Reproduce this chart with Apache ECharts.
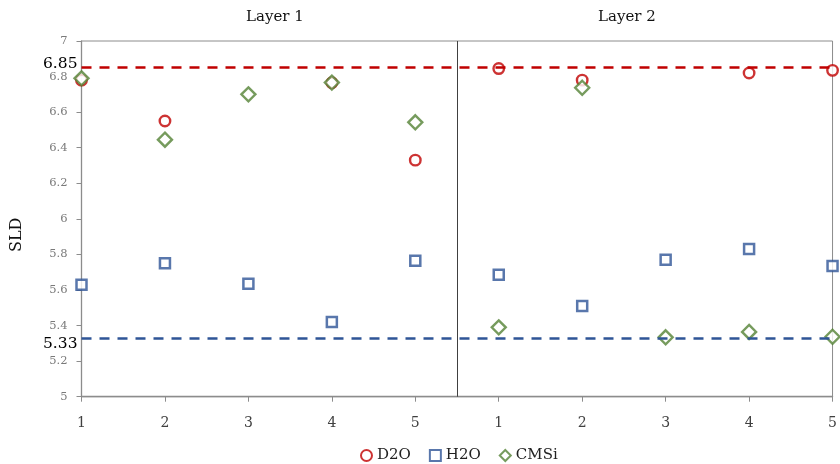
<!DOCTYPE html>
<html>
<head>
<meta charset="utf-8">
<script src="https://cdn.jsdelivr.net/npm/echarts@6/dist/echarts.min.js"></script>
<style>html,body{margin:0;padding:0;background:#fff}#c{width:840px;height:464px}</style>
</head>
<body>
<div id="c"></div>
<script>
const layers = ['Layer 1', 'Layer 2'];
const samples = ['1', '2', '3', '4', '5'];
const yTicks = [5, 5.2, 5.4, 5.6, 5.8, 6, 6.2, 6.4, 6.6, 6.8, 7];
const d2oL1 = [6.78, 6.55, null, 6.765, 6.33];
const d2oL2 = [6.845, 6.78, null, 6.82, 6.835];
const h2oL1 = [5.63, 5.75, 5.635, 5.42, 5.765];
const h2oL2 = [5.685, 5.51, 5.77, 5.83, 5.735];
const cmsiL1 = [6.79, 6.445, 6.70, 6.766, 6.543];
const cmsiL2 = [5.39, 6.737, 5.334, 5.364, 5.337];
const d2oRef = 6.85;
const h2oRef = 5.33;

const FONT = 'DejaVu Serif';
const RED = '#C00000', BLUE = '#2F5597', GREEN = '#548235';

function pts(l1, l2) {
  const out = [];
  [l1, l2].forEach((arr, li) => arr.forEach((v, i) => {
    if (v !== null) out.push([li * samples.length + i + 1, v]);
  }));
  return out;
}
const nX = layers.length * samples.length;

const chart = echarts.init(document.getElementById('c'));
chart.setOption({
  animation: false,
  textStyle: { fontFamily: FONT },
  grid: { left: 81.5, right: 5, top: 41, bottom: 67.3, show: true, borderColor: '#8c8c8c', borderWidth: 1 },
  xAxis: {
    type: 'value', min: 1, max: nX, interval: 1,
    axisLine: { lineStyle: { color: '#8c8c8c', width: 1.3 } },
    axisTick: { show: true, length: 5, lineStyle: { color: '#8c8c8c' } },
    splitLine: { show: false },
    axisLabel: {
      margin: 20, color: '#404040', fontSize: 14, fontFamily: FONT,
      formatter: v => samples[(v - 1) % samples.length]
    }
  },
  yAxis: {
    type: 'value', min: yTicks[0], max: yTicks[yTicks.length - 1], interval: 0.2,
    axisLine: { show: true, lineStyle: { color: '#8c8c8c', width: 1.3 } },
    axisTick: { show: true, length: 5, lineStyle: { color: '#8c8c8c' } },
    splitLine: { show: false },
    axisLabel: { margin: 14, color: '#7a7a7a', fontSize: 11.5, fontFamily: FONT }
  },
  legend: {
    left: 355, top: 443, itemWidth: 11, itemHeight: 11, itemGap: 18,
    textStyle: { fontFamily: FONT, fontSize: 15, color: '#222' },
    data: ['D2O', 'H2O', 'CMSi']
  },
  graphic: [
    { type: 'text', left: 246, top: 10, style: { text: layers[0], font: '15px "DejaVu Serif"', fill: '#111' } },
    { type: 'text', left: 598, top: 10, style: { text: layers[1], font: '15px "DejaVu Serif"', fill: '#111' } },
    { type: 'text', x: 9, y: 252, rotation: Math.PI / 2, style: { text: 'SLD', font: '16px "DejaVu Serif"', fill: '#111' } }
  ],
  series: [
    {
      name: 'D2O', type: 'scatter', clip: false, symbol: 'circle', symbolSize: 10.5,
      itemStyle: { color: '#fff', borderColor: RED, borderWidth: 2.4 },
      data: pts(d2oL1, d2oL2),
      markLine: {
        silent: true, symbol: 'none',
        lineStyle: { color: RED, width: 2.6, type: [10, 8] },
        label: { show: true, position: 'start', distance: 4, color: '#000', fontSize: 15.5, fontFamily: FONT, formatter: String(d2oRef), offset: [0, -4] },
        data: [{ yAxis: d2oRef }]
      }
    },
    {
      name: 'H2O', type: 'scatter', clip: false, symbol: 'rect', symbolSize: 10,
      itemStyle: { color: '#fff', borderColor: BLUE, borderWidth: 2.5 },
      data: pts(h2oL1, h2oL2),
      markLine: {
        silent: true, symbol: 'none',
        lineStyle: { color: BLUE, width: 2.6, type: [10, 8] },
        label: { show: true, position: 'start', distance: 4, color: '#000', fontSize: 15.5, fontFamily: FONT, formatter: String(h2oRef), offset: [0, 6] },
        data: [{ yAxis: h2oRef }]
      }
    },
    {
      name: 'CMSi', type: 'scatter', clip: false, symbol: 'diamond', symbolSize: 14,
      itemStyle: { color: '#fff', borderColor: GREEN, borderWidth: 2.4 },
      data: pts(cmsiL1, cmsiL2),
      markLine: {
        silent: true, symbol: 'none',
        lineStyle: { color: '#404040', width: 1, type: 'solid' },
        label: { show: false },
        data: [{ xAxis: samples.length + 0.5 }]
      }
    }
  ]
});
</script>
</body>
</html>
